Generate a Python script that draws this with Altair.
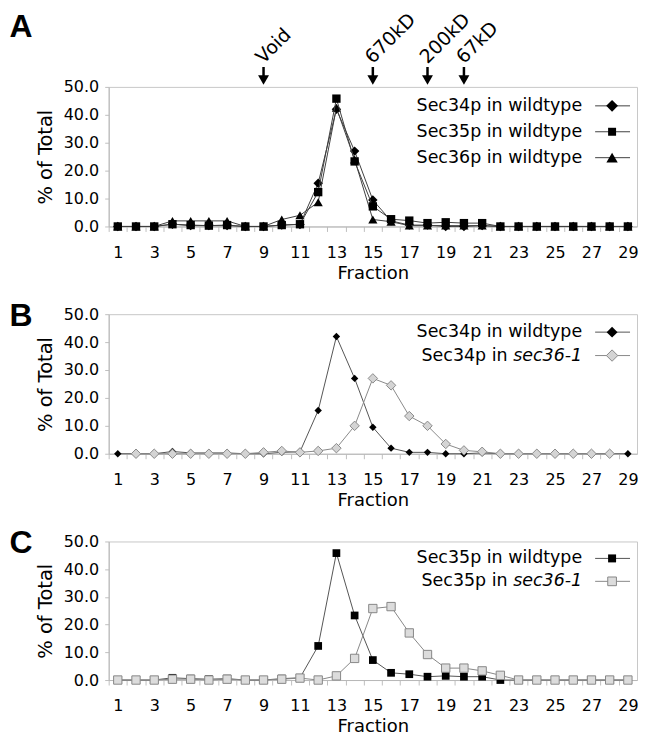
import altair as alt
import pandas as pd

# ---------------- data ----------------
fractions = list(range(1, 30))

sec34_wt = [0, 0, 0, 0.8, 0.3, 0.3, 0.3, 0, 0, 0.5, 0.7, 15.5, 42, 27, 9.5, 2, 0.5, 0.5, 0, 0, 0.3,
            0, 0, 0, 0, 0, 0, 0, 0]
sec35_wt = [0, 0, 0, 0.8, 0.5, 0.3, 0.5, 0, 0, 0.5, 0.8, 12.3, 45.8, 23.3, 7.2, 2.6, 2.1, 1.2, 1.5, 1.2, 1.2, 0,
            0, 0, 0, 0, 0, 0, 0]
sec36_wt = [0, 0, 0, 2, 2, 2, 2, 0, 0, 2.5, 4, 8.7, 42.5, 24, 2.5, 1.7, 0.3, 0.3, 0.3, 0.3, 0.3, 0,
            0, 0, 0, 0, 0, 0, 0]
sec34_mut = [None, 0, 0, 0, 0, 0, 0, 0, 0.5, 1, 0.5, 1, 2, 10, 27, 24.5, 13.5, 10, 3.5, 1.2, 0.7,
             0, 0, 0, 0, 0, 0, 0, None]
sec35_mut = [0, 0, 0, 0.3, 0.3, 0, 0.3, 0, 0, 0.3, 0.7, 0, 1.5, 7.8, 25.8, 26.5, 17, 9.2, 4.3, 4.3, 3.3, 1.7,
             0, 0, 0, 0, 0, 0, 0]

marker_fractions = [9, 15, 18, 20]
marker_labels = ["Void", "670kD", "200kD", "67kD"]

y_ticks = [0, 10, 20, 30, 40, 50]
x_boundaries = [i + 0.5 for i in range(0, 29)]

# ---------------- layout constants ----------------
W = 530
FONT = "DejaVu Sans"
LEG_FS = 17.5
one = pd.DataFrame({"k": [0]})


def xenc():
    return alt.X(
        "fraction:Q",
        scale=alt.Scale(domain=[0.5, 29.5], nice=False, zero=False),
        axis=alt.Axis(
            values=x_boundaries,
            labelExpr="(datum.value + 0.5) % 2 == 1 && datum.value < 29 ? format(datum.value + 0.5, 'd') : ''",
            labelOffset=W / 58.0,
            labelOverlap=False,
            labelFlush=False,
            labelBound=False,
            tickSize=5,
            labelPadding=13,
            title="Fraction",
            titlePadding=4,
            grid=False,
        ),
    )


def yenc():
    return alt.Y(
        "value:Q",
        scale=alt.Scale(domain=[0, 50], nice=False, zero=True),
        axis=alt.Axis(
            values=y_ticks,
            format=".1f",
            tickSize=4,
            labelPadding=6,
            title="% of Total",
            titlePadding=8,
            grid=False,
        ),
    )


def series(vals, shape, size, fill, stroke, line_color, sw=0.0):
    df = pd.DataFrame({"fraction": fractions, "value": vals})
    base = alt.Chart(df).encode(x=xenc(), y=yenc())
    line = base.mark_line(color=line_color, strokeWidth=1)
    pts = base.mark_point(shape=shape, size=size, filled=True, fill=fill,
                          stroke=stroke, strokeWidth=sw, opacity=1)
    return [line, pts]


def legend_row(yy, text, italic, shape, size, fill, stroke, line_color, sw=0.0):
    layers = []
    right = W - 55
    if italic:
        layers.append(alt.Chart(one).mark_text(text=italic, font=FONT, fontStyle="italic", fontSize=LEG_FS,
                                               align="right", baseline="middle", color="black")
                      .encode(x=alt.value(right), y=alt.value(yy)))
        right = right - LEG_FS * 3.955 - LEG_FS * 0.318
    layers.append(alt.Chart(one).mark_text(text=text, font=FONT, fontSize=LEG_FS,
                                           align="right", baseline="middle", color="black")
                  .encode(x=alt.value(right), y=alt.value(yy)))
    layers.append(alt.Chart(one).mark_rule(color=line_color, strokeWidth=1)
                  .encode(x=alt.value(W - 42), x2=alt.value(W - 7), y=alt.value(yy)))
    layers.append(alt.Chart(one).mark_point(shape=shape, size=size, filled=True, fill=fill,
                                            stroke=stroke, strokeWidth=sw, opacity=1)
                  .encode(x=alt.value(W - 25), y=alt.value(yy)))
    return layers


def letter(ch, yy):
    return alt.Chart(one).mark_text(text=ch, font="Liberation Sans", fontWeight="bold", fontSize=32,
                                    align="center", baseline="middle", color="black") \
        .encode(x=alt.value(-88), y=alt.value(yy))


# ---------------- panel A ----------------
arrows = pd.DataFrame({"fraction": marker_fractions, "label": marker_labels})
arrow_shaft = alt.Chart(arrows).mark_rule(color="black", strokeWidth=2.5).encode(
    x=xenc(), y=alt.value(-20), y2=alt.value(-8))
arrow_head = alt.Chart(arrows).mark_point(shape="triangle-down", size=120, filled=True,
                                          color="black", opacity=1).encode(
    x=xenc(), y=alt.value(-7))
arrow_text = alt.Chart(arrows).mark_text(angle=315, align="left", baseline="middle", dx=-6,
                                         font=FONT, fontSize=19, color="black").encode(
    x=xenc(), y=alt.value(-31), text="label:N")

layers_a = []
layers_a += series(sec34_wt, "diamond", 90, "black", "black", "#404040")
layers_a += series(sec36_wt, "triangle-up", 85, "black", "black", "#404040")
layers_a += series(sec35_wt, "square", 70, "black", "black", "#404040")
layers_a += [arrow_shaft, arrow_head, arrow_text]
layers_a += legend_row(19, "Sec34p in wildtype", None, "diamond", 140, "black", "black", "#404040")
layers_a += legend_row(45, "Sec35p in wildtype", None, "square", 64, "black", "black", "#404040")
layers_a += legend_row(71, "Sec36p in wildtype", None, "triangle-up", 130, "black", "black", "#404040")
layers_a += [letter("A", -60)]
panel_a = alt.layer(*layers_a).properties(width=W, height=140)

# ---------------- panel B ----------------
layers_b = []
layers_b += series(sec34_wt, "diamond", 55, "black", "black", "#555555")
layers_b += series(sec34_mut, "diamond", 90, "#d4d4d4", "#8a8a8a", "#8a8a8a", sw=1)
layers_b += legend_row(18, "Sec34p in wildtype", None, "diamond", 120, "black", "black", "#555555")
layers_b += legend_row(41.5, "Sec34p in", "sec36-1", "diamond", 130, "#d4d4d4", "#8a8a8a", "#8a8a8a", sw=1)
layers_b += [letter("B", 2)]
panel_b = alt.layer(*layers_b).properties(width=W, height=140)

# ---------------- panel C ----------------
layers_c = []
layers_c += series(sec35_wt, "square", 60, "black", "black", "#555555")
layers_c += series(sec35_mut, "square", 70, "#dcdcdc", "#888888", "#888888", sw=1)
layers_c += legend_row(17, "Sec35p in wildtype", None, "square", 64, "black", "black", "#555555")
layers_c += legend_row(40, "Sec35p in", "sec36-1", "square", 76, "#dcdcdc", "#888888", "#888888", sw=1)
layers_c += [letter("C", 2)]
panel_c = alt.layer(*layers_c).properties(width=W, height=139)

chart = alt.vconcat(panel_a, panel_b, panel_c, spacing=88, bounds="flush").properties(
    padding={"left": 0, "top": 0, "right": 0, "bottom": 0}
).configure_view(
    stroke="#c8c8c8"
).configure_axis(
    labelFont=FONT, titleFont=FONT, labelFontSize=16, titleFontSize=19.5,
    titleFontWeight="normal", labelColor="black", titleColor="black",
    domainColor="#b8b8b8", tickColor="#c0c0c0"
).configure_axisX(
    titleFontSize=18
)

chart.save("out.html", embed_options={"renderer": "svg", "actions": False})
